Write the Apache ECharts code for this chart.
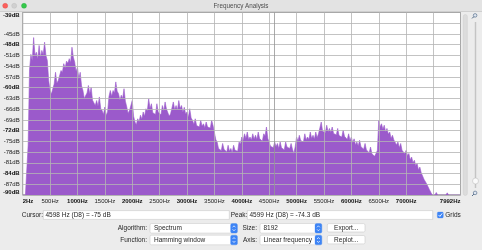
<!DOCTYPE html>
<html>
<head>
<meta charset="utf-8">
<script src="https://cdn.jsdelivr.net/npm/echarts@6/dist/echarts.min.js"></script>
<style>
html,body{margin:0;padding:0;background:#ececec;}
#chart{width:482px;height:250px;}
</style>
</head>
<body>
<div id="chart"></div>
<script>
// Frequencies (Hz) of the sampled spectrum points
const frequencies = [
  0,50,100,150,200,250,300,350,400,450,500,550,600,650,700,750,800,850,900,950,
  1000,1050,1100,1150,1200,1250,1300,1350,1400,1450,1500,1550,1600,1650,1700,1750,1800,1850,1900,1950,
  2000,2050,2100,2150,2200,2250,2300,2350,2400,2450,2500,2550,2600,2650,2700,2750,2800,2850,2900,2950,
  3000,3050,3100,3150,3200,3250,3300,3350,3400,3450,3500,3550,3600,3650,3700,3750,3800,3850,3900,3950,
  4000,4050,4100,4150,4200,4250,4300,4350,4400,4450,4500,4550,4600,4650,4700,4750,4800,4850,4900,4950,
  5000,5050,5100,5150,5200,5250,5300,5350,5400,5450,5500,5550,5600,5650,5700,5750,5800,5850,5900,5950,
  6000,6050,6100,6150,6200,6250,6300,6350,6400,6450,6500,6550,6600,6650,6700,6750,6800,6850,6900,6950,
  7000,7050,7100,7150,7200,7250,7300,7350,7400,7450,7500,7550,7600,7650,7700,7750,7800,7850,7900,7950,
  7992
];
// Spectrum level (dB) at those frequencies
const levels = [
  -90,-90,-76,-50.7,-46,-50.1,-48.2,-49.6,-47.3,-52.4,-60.8,-60.3,-55.7,-58,-55.2,-53.3,-52.6,-51.9,-48.7,-52.9,
  -54.3,-55.7,-60.8,-62.2,-59.4,-59.9,-63.1,-63.6,-62.6,-66.4,-65.4,-66.8,-60.8,-60.8,-58.4,-61.7,-62.1,-60.3,-65.4,-66.4,
  -63.6,-69.6,-68.7,-67.7,-66.8,-65.9,-63.1,-64.5,-66.8,-64.5,-66.8,-65,-64,-66.4,-67.3,-64,-65,-63.6,-65,-65.5,
  -66.8,-65.9,-69.1,-68.7,-70.1,-69.1,-70.1,-69.6,-70.5,-69.1,-71,-75.2,-76.6,-75.6,-77,-76.1,-77,-76.1,-78,-75.2,
  -73.8,-72.9,-72.4,-73.8,-72.9,-73.3,-72.4,-73.8,-72.9,-71,-74.7,-76.1,-75.2,-75.6,-75.2,-76.6,-75.2,-76.1,-75.6,-78.4,
  -73.8,-73.3,-74.3,-72.9,-73.8,-72.4,-73.3,-72.4,-72.9,-69.6,-71.9,-70.5,-71.4,-71,-72.4,-71.4,-72.9,-71.9,-73.3,-72.9,
  -73.8,-74.3,-75.2,-74.7,-76.1,-75.6,-77,-76.6,-78,-78.4,-69.1,-70.1,-70.5,-71.4,-72.4,-73.3,-74.3,-75.2,-75.6,-77,
  -77.5,-78.4,-79.4,-80.3,-81.2,-82.2,-84,-85.4,-86.8,-88.7,-90,-89.3,-90,-89.5,-90,-89.4,-90,-89.6,-90,-89.7,
  -90
];
// In-between frequencies (Hz) where the jagged notches of the spectrum sit
const midFrequencies = [
  25,75,125,175,225,275,325,375,425,475,525,575,625,675,725,775,825,875,925,975,
  1025,1075,1125,1175,1225,1275,1325,1375,1425,1475,1525,1575,1625,1675,1725,1775,1825,1875,1925,1975,
  2025,2075,2125,2175,2225,2275,2325,2375,2425,2475,2525,2575,2625,2675,2725,2775,2825,2875,2925,2975,
  3025,3075,3125,3175,3225,3275,3325,3375,3425,3475,3525,3575,3625,3675,3725,3775,3825,3875,3925,3975,
  4025,4075,4125,4175,4225,4275,4325,4375,4425,4475,4525,4575,4625,4675,4725,4775,4825,4875,4925,4975,
  5025,5075,5125,5175,5225,5275,5325,5375,5425,5475,5525,5575,5625,5675,5725,5775,5825,5875,5925,5975,
  6025,6075,6125,6175,6225,6275,6325,6375,6425,6475,6525,6575,6625,6675,6725,6775,6825,6875,6925,6975,
  7025,7075,7125,7175,7225,7275,7325,7375,7425,7475,7525,7575,7625,7675,7725,7775,7825,7875,7925,7975
];
const midLevels = [
  -90,-90,-55,-52.5,-51,-52,-51.5,-50.8,-51,-58,-61.8,-59,-58.8,-57.5,-55.8,-54.5,-53.2,-53,-51.5,-55.5,
  -57.5,-59.5,-63,-61.5,-61.8,-63.5,-65,-65.2,-65.8,-67.5,-67.8,-62.5,-62.4,-61.5,-61,-63.5,-63,-63.8,-67.2,-66.8,
  -68,-70.4,-69.5,-68.8,-68,-66.5,-65.8,-67,-67.5,-66.9,-67.6,-66.5,-66,-68,-66.8,-66.2,-66.3,-65.8,-66.9,-67.4,
  -68.3,-68.5,-70.3,-70.6,-71,-70.8,-71.2,-71,-71.3,-70.6,-74.5,-77,-77.6,-77.2,-78,-77.8,-78.2,-77.5,-77.8,-75.8,
  -74.8,-74.2,-74.5,-74.6,-74.4,-74.5,-74.2,-75,-73.5,-74.2,-76.4,-76.8,-76.5,-77,-76.8,-77.4,-76.6,-77,-77.2,-76.5,
  -75,-74.8,-75.2,-74.6,-74.5,-74.2,-74.4,-74,-72.5,-72.2,-72.6,-72.3,-72.5,-72.8,-73.2,-73.4,-73.8,-73.6,-74.5,-74.8,
  -75.4,-76,-76.3,-76.5,-77.2,-77.4,-78.2,-78.5,-79.2,-77.5,-71,-71.6,-72.4,-73,-74.2,-74.6,-76,-76.8,-77.5,-78.5,
  -79,-80.2,-81,-81.8,-83,-83.8,-85.6,-86.9,-88.5,-90,-90,-90,-90,-90,-90,-90,-90,-90,-90,-90
];
const boldFreqLabels = [0,1000,2000,3000,4000,5000,6000,7000,7992];
const hiddenFreqLabels = [7500];
const boldDbLabels = [-39,-48,-60,-72,-84,-90];
const hiddenDbLabels = [-42];
const cursorFreq = 4598;
const cursorText = '4598 Hz (D8) = -75 dB';
const peakText = '4599 Hz (D8) = -74.3 dB';

const FONT = '"Liberation Sans", Arial, sans-serif';
const PURPLE = '#9b5acb';
const BLUE = '#3d84f5';

const seriesData = frequencies.map((f, i) => [f, levels[i]])
  .concat(midFrequencies.map((f, i) => [f, midLevels[i]]))
  .sort((a, b) => a[0] - b[0]);

function freqLabel(v) {
  if (hiddenFreqLabels.includes(v)) return '';
  const t = (v === 0 ? 2 : v) + 'Hz';
  return boldFreqLabels.includes(v) ? '{b|' + t + '}' : '{n|' + t + '}';
}
function dbLabel(v) {
  const r = Math.round(v);
  if (hiddenDbLabels.includes(r)) return '';
  const t = r + 'dB';
  return boldDbLabels.includes(r) ? '{b|' + t + '}' : '{n|' + t + '}';
}
const labelRich = {
  b: {fontFamily: FONT, fontSize: 6, fontWeight: 'bold', color: '#111'},
  n: {fontFamily: FONT, fontSize: 6, color: '#222'}
};
const gridLine = {show: true, lineStyle: {color: 'rgba(180,180,180,0.8)', width: 1}};

function txt(x, y, s, opt) {
  opt = opt || {};
  return {type: 'text', x: x, y: y, silent: true, z: 10,
    style: {text: s, fontFamily: FONT, fontSize: opt.size || 6.5, fill: opt.color || '#262626',
      align: opt.align || 'left', verticalAlign: 'middle', fontWeight: opt.weight || 'normal'}};
}
function box(x, y, w, h, opt) {
  opt = opt || {};
  return {type: 'rect', shape: {x: x, y: y, width: w, height: h, r: opt.r || 0}, silent: true, z: 9,
    style: {fill: opt.fill || '#fff', stroke: opt.stroke || '#c8c8c8', lineWidth: opt.lw === undefined ? 0.6 : opt.lw}};
}
function stepper(x, y, w, h) {
  const cx = x + w / 2, cy = y + h / 2;
  return [
    box(x, y, w, h, {fill: BLUE, stroke: BLUE, r: 1.5, lw: 0.3}),
    {type: 'polyline', silent: true, z: 11, shape: {points: [[cx - 1.4, cy - 1], [cx, cy - 2.5], [cx + 1.4, cy - 1]]}, style: {stroke: '#fff', lineWidth: 0.7, fill: null}},
    {type: 'polyline', silent: true, z: 11, shape: {points: [[cx - 1.4, cy + 1], [cx, cy + 2.5], [cx + 1.4, cy + 1]]}, style: {stroke: '#fff', lineWidth: 0.7, fill: null}}
  ];
}
function magnifier(cx, cy) {
  return [
    {type: 'circle', silent: true, z: 10, shape: {cx: cx + 0.6, cy: cy - 0.6, r: 1.8}, style: {fill: '#dfe6f0', stroke: '#45607f', lineWidth: 0.6}},
    {type: 'line', silent: true, z: 10, shape: {x1: cx - 0.7, y1: cy + 0.7, x2: cx - 2.4, y2: cy + 2.4}, style: {stroke: '#45607f', lineWidth: 1}}
  ];
}

const graphics = [
  // title bar
  {type: 'rect', silent: true, z: 1, shape: {x: 0, y: 0, width: 482, height: 12}, style: {fill: '#e3e3e3'}},
  {type: 'line', silent: true, z: 1, shape: {x1: 0, y1: 11.5, x2: 482, y2: 11.5}, style: {stroke: '#cfcfcf', lineWidth: 1}},
  {type: 'circle', silent: true, z: 2, shape: {cx: 5.2, cy: 5.8, r: 2.5}, style: {fill: '#fc605c', stroke: '#de4a43', lineWidth: 0.4}},
  {type: 'circle', silent: true, z: 2, shape: {cx: 14.2, cy: 5.8, r: 2.5}, style: {fill: '#d0d0d0', stroke: '#bcbcbc', lineWidth: 0.4}},
  {type: 'circle', silent: true, z: 2, shape: {cx: 24, cy: 5.8, r: 2.5}, style: {fill: '#34c84a', stroke: '#24a83a', lineWidth: 0.4}},
  txt(241, 6, 'Frequency Analysis', {align: 'center', size: 6.3, color: '#4d4d4d'}),
  // right scrollbar and zoom slider
  box(463.3, 14.5, 4, 181, {fill: '#dcdcdc', stroke: '#cdcdcd', r: 2, lw: 0.5}),
  {type: 'line', silent: true, z: 9, shape: {x1: 475.5, y1: 22, x2: 475.5, y2: 188}, style: {stroke: '#c4c4c4', lineWidth: 1.4}},
  {type: 'circle', silent: true, z: 10, shape: {cx: 475.5, cy: 181, r: 3}, style: {fill: '#fafafa', stroke: '#b5b5b5', lineWidth: 0.5}},
  ...magnifier(474.5, 16),
  ...magnifier(474.5, 193.5),
  // row 1
  txt(21.7, 215, 'Cursor:'),
  box(43.3, 210.6, 186, 8.8),
  txt(45.5, 215.1, cursorText),
  txt(230.7, 215, 'Peak:'),
  box(247.3, 210.6, 185.4, 8.8),
  txt(249.5, 215.1, peakText),
  box(437.3, 212, 6, 6, {fill: BLUE, stroke: BLUE, r: 1.2, lw: 0.3}),
  {type: 'polyline', silent: true, z: 11, shape: {points: [[438.6, 215], [439.9, 216.4], [442.2, 213.4]]}, style: {stroke: '#fff', lineWidth: 0.9, fill: null}},
  txt(445.3, 215, 'Grids'),
  // row 2
  txt(147, 228.3, 'Algorithm:', {align: 'right'}),
  box(150, 223.5, 87.3, 9.6, {r: 1.5, stroke: '#cfcfcf'}),
  txt(154, 228.4, 'Spectrum'),
  ...stepper(230.6, 223.5, 6.8, 9.6),
  txt(257, 228.3, 'Size:', {align: 'right'}),
  box(260, 223.5, 61.7, 9.6, {r: 1.5, stroke: '#cfcfcf'}),
  txt(263.5, 228.4, '8192'),
  ...stepper(315, 223.5, 6.8, 9.6),
  box(327.3, 223.6, 37.7, 8.4, {r: 1.5, stroke: '#cbcbcb'}),
  txt(346.2, 227.9, 'Export...', {align: 'center'}),
  // row 3
  txt(147, 240, 'Function:', {align: 'right'}),
  box(150, 235.2, 87.3, 9.6, {r: 1.5, stroke: '#cfcfcf'}),
  txt(154, 240.1, 'Hamming window'),
  ...stepper(230.6, 235.2, 6.8, 9.6),
  txt(257, 240, 'Axis:', {align: 'right'}),
  box(260, 235.2, 61.7, 9.6, {r: 1.5, stroke: '#cfcfcf'}),
  txt(263.5, 240.1, 'Linear frequency'),
  ...stepper(315, 235.2, 6.8, 9.6),
  box(327.3, 235.5, 37.7, 8.4, {r: 1.5, stroke: '#cbcbcb'}),
  txt(346.2, 239.8, 'Replot...', {align: 'center'})
];

const chart = echarts.init(document.getElementById('chart'), null, {renderer: 'canvas'});
chart.setOption({
  animation: false,
  backgroundColor: '#ececec',
  grid: {left: 21, top: 12.5, width: 439.5, height: 182.5, show: true, backgroundColor: '#ffffff', borderColor: '#7a7a7a', borderWidth: 1},
  xAxis: {
    type: 'value', min: 0, max: 7992, interval: 500, z: 3,
    axisLine: {show: false}, axisTick: {show: false},
    splitLine: gridLine,
    axisLabel: {interval: 0, margin: 3.5, formatter: freqLabel, rich: labelRich, hideOverlap: false,
      showMinLabel: true, showMaxLabel: true, alignMinLabel: 'left', alignMaxLabel: 'right'}
  },
  yAxis: {
    type: 'value', min: -90, max: -39, interval: 3, z: 3,
    axisLine: {show: false}, axisTick: {show: false},
    splitLine: gridLine,
    axisLabel: {margin: 3, formatter: dbLabel, rich: labelRich, hideOverlap: false,
      showMinLabel: true, showMaxLabel: true, verticalAlignMinLabel: 'bottom', verticalAlignMaxLabel: 'top'}
  },
  series: [{
    type: 'line', data: seriesData, showSymbol: false, symbol: 'none', z: 2,
    lineStyle: {color: PURPLE, width: 0.6},
    areaStyle: {color: PURPLE, opacity: 1, origin: 'start'},
    markLine: {silent: true, symbol: ['none', 'none'], label: {show: false},
      lineStyle: {color: 'rgba(150,150,150,0.8)', width: 1, type: 'solid'},
      data: [{xAxis: cursorFreq}]}
  }],
  graphic: graphics
});
</script>
</body>
</html>
